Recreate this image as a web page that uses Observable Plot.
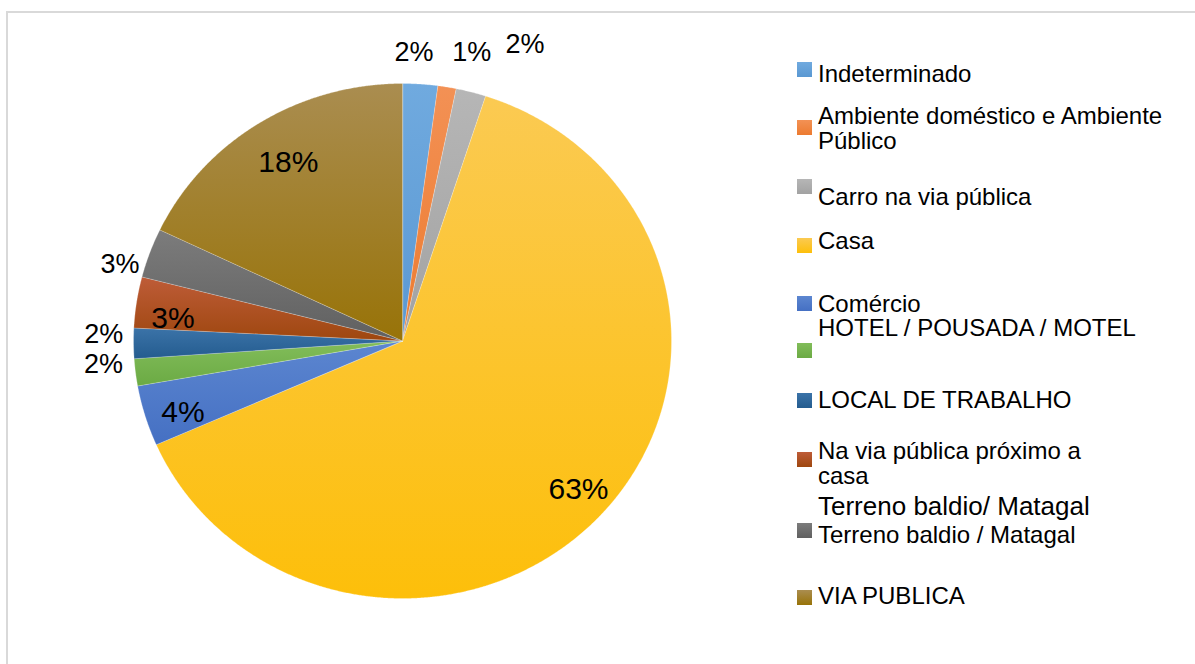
<!DOCTYPE html>
<html>
<head>
<meta charset="utf-8">
<script src="https://cdn.jsdelivr.net/npm/d3@7"></script>
<script src="https://cdn.jsdelivr.net/npm/@observablehq/plot@0.6"></script>
<style>
  body { margin: 0; background: #fff; }
  #wrap { position: relative; width: 1195px; height: 664px; overflow: hidden; background: #fff;
          font-family: "Liberation Sans", Arial, sans-serif; }
  #frame { position: absolute; left: 6px; top: 11px; width: 1200px; height: 700px;
           border-left: 2px solid #d9d9d9; border-top: 2px solid #d9d9d9; }
  #wrap svg { position: absolute; left: 0; top: 0; }
</style>
</head>
<body>
<div id="wrap"><div id="frame"></div></div>
<script>
// ---- data ----
const categories = [
  "Indeterminado",
  "Ambiente doméstico e Ambiente Público",
  "Carro na via pública",
  "Casa",
  "Comércio",
  "HOTEL / POUSADA / MOTEL",
  "LOCAL DE TRABALHO",
  "Na via pública próximo a casa",
  "Terreno baldio / Matagal",
  "VIA PUBLICA"
];
const shares = [2.1, 1.1, 1.8, 63.4, 3.8, 1.7, 1.9, 3.2, 3.1, 17.9];
const percentLabels = ["2%", "1%", "2%", "63%", "4%", "2%", "2%", "3%", "3%", "18%"];

// legend texts (as printed in the picture)
const legendTexts = [
  ["Indeterminado"],
  ["Ambiente doméstico e Ambiente", "Público"],
  ["Carro na via pública"],
  ["Casa"],
  ["Comércio"],
  [],
  ["LOCAL DE TRABALHO"],
  ["Na via pública próximo a", "casa"],
  ["Terreno baldio / Matagal"],
  ["VIA PUBLICA"]
];
const extraLegendTexts = ["HOTEL / POUSADA / MOTEL", "Terreno baldio/ Matagal"];

// ---- styles / layout ----
const baseColors = ["#5A98D2", "#EC7B30", "#A2A2A2", "#FDBF0A", "#4570C3", "#6BAA44", "#245C8F", "#9E470F", "#606060", "#987308"];
const topColors  = ["#70AADF", "#F39155", "#B6B6B6", "#FBCA52", "#5C86D0", "#82BD5A", "#3B73A8", "#BE5C38", "#7C7C7C", "#AA8D50"];
const labelShiftDeg = [-1.6, 3.4, 6.8, -0.8, -1.8, 2.3, 1.8, -2.8, -4.2, 0.8];
const labelRadius   = [1.121, 1.149, 1.239, 0.871, 0.862, 1.115, 1.111, 0.858, 1.091, 0.814];
const labelInside   = [false, false, false, true, true, false, false, true, false, true];
const legendSwatchTop = [62, 120, 179, 238, 296, 343, 393, 452, 523, 590];
const legendBaselines = [[81.7], [124, 149.3], [205], [249.3], [311.7], [], [407.7], [459, 484], [543.3], [604]];
const extraLegendBaselines = [336, 515];
const extraLegendSizes = [24, 26];
const FONT = "'Liberation Sans', Arial, sans-serif";

// ---- geometry from data ----
const total = d3.sum(shares);
let cum = 0;
const slices = categories.map((c, i) => {
  const a0 = cum / total * 360;
  cum += shares[i];
  const a1 = cum / total * 360;
  return { category: c, a0, a1, i };
});
const rad = Math.PI / 180;
const piePts = [];
for (const s of slices) {
  piePts.push({ category: s.category, x: 0, y: 0 });
  const n = Math.max(4, Math.ceil((s.a1 - s.a0) / 0.25));
  for (let k = 0; k <= n; k++) {
    const a = (s.a0 + (s.a1 - s.a0) * k / n) * rad;
    piePts.push({ category: s.category, x: Math.sin(a), y: Math.cos(a) });
  }
}
const labels = slices.map((s, i) => {
  const a = ((s.a0 + s.a1) / 2 + labelShiftDeg[i]) * rad;
  return { text: percentLabels[i], x: labelRadius[i] * Math.sin(a), y: labelRadius[i] * Math.cos(a), inside: labelInside[i] };
});

const gradIds = categories.map((_, i) => `grad${i}`);

const plot = Plot.plot({
  width: 1195,
  height: 664,
  margin: 0,
  style: { background: "transparent", fontFamily: FONT },
  x: { domain: [-1, 1], range: [133, 671], axis: null },
  y: { domain: [-1, 1], range: [598, 83], axis: null },
  color: { type: "ordinal", domain: categories, range: gradIds.map(id => `url(#${id})`) },
  marks: [
    Plot.line(piePts, {
      x: "x", y: "y", z: "category", fill: "category",
      curve: "linear-closed",
      stroke: "#ffffff", strokeWidth: 0.7, strokeOpacity: 0.35
    }),
    Plot.text(labels, {
      x: "x", y: "y", text: "text",
      fontSize: d => d.inside ? 30 : 27,
      fill: "#000", fontFamily: FONT, textAnchor: "middle", lineAnchor: "middle"
    })
  ]
});

// gradient definitions for the slices
const defs = d3.select(plot).insert("defs", ":first-child");
gradIds.forEach((id, i) => {
  const g = defs.append("linearGradient").attr("id", id)
    .attr("x1", 0).attr("y1", 0).attr("x2", 0).attr("y2", 1);
  g.append("stop").attr("offset", "0%").attr("stop-color", topColors[i]);
  g.append("stop").attr("offset", "100%").attr("stop-color", baseColors[i]);
});

const wrap = document.getElementById("wrap");
wrap.appendChild(plot);

// ---- legend ----
const leg = d3.select(wrap).append("svg")
  .attr("width", 1195).attr("height", 664)
  .style("pointer-events", "none");
const legDefs = leg.append("defs");
categories.forEach((c, i) => {
  const gid = `lg${i}`;
  const g = legDefs.append("linearGradient").attr("id", gid)
    .attr("x1", 0).attr("y1", 0).attr("x2", 0).attr("y2", 1);
  g.append("stop").attr("offset", "0%").attr("stop-color", topColors[i]);
  g.append("stop").attr("offset", "100%").attr("stop-color", baseColors[i]);
  leg.append("rect").attr("x", 797).attr("y", legendSwatchTop[i])
    .attr("width", 15).attr("height", 15).attr("fill", `url(#${gid})`);
  legendTexts[i].forEach((t, k) => {
    leg.append("text").attr("x", 818).attr("y", legendBaselines[i][k])
      .attr("font-family", FONT).attr("font-size", 24).attr("fill", "#000").text(t);
  });
});
extraLegendTexts.forEach((t, k) => {
  leg.append("text").attr("x", 818).attr("y", extraLegendBaselines[k])
    .attr("font-family", FONT).attr("font-size", extraLegendSizes[k]).attr("fill", "#000").text(t);
});
</script>
</body>
</html>
